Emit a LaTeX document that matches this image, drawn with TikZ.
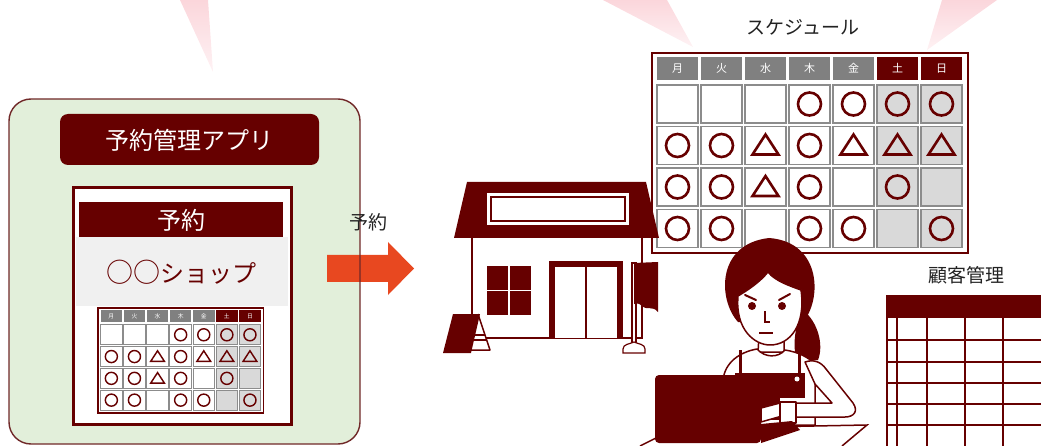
\documentclass[tikz,border=0pt]{standalone}
\usepackage{fontspec}
\newfontfamily\jp{Noto Sans CJK JP}
\definecolor{maroon}{RGB}{102,0,0}
\definecolor{panelgreen}{RGB}{226,239,218}
\definecolor{panelline}{RGB}{112,40,40}
\definecolor{hdrgray}{RGB}{128,128,128}
\definecolor{wkgray}{RGB}{217,217,217}
\definecolor{cellgray}{RGB}{140,140,140}
\definecolor{bandgray}{RGB}{240,240,240}
\definecolor{arrowred}{RGB}{232,72,32}
\definecolor{raytop}{RGB}{251,214,219}
\definecolor{raytip}{RGB}{254,242,244}
\definecolor{inkdark}{RGB}{34,34,34}

% weekly schedule grid, drawn in local coordinates; #1 = name prefix, #2 = line width factor
\newcommand\schedgrid[2]{%
  \draw[maroon, line width=#2*2.2pt, fill=white] (-5,-4) rectangle (311,196);
  \foreach \dd [count=\ii from 0] in {月,火,水,木,金,土,日}{%
    \ifnum\ii<5 \def\hc{hdrgray}\else\def\hc{maroon}\fi
    \fill[\hc] (44*\ii,0) rectangle (44*\ii+41,23);
    \node[dayfont] (#1-d\ii) at (44*\ii+20.5,11.5) {\dd};
  }
  \foreach \rr in {1,...,4}{%
    \foreach \cc in {0,...,6}{%
      \ifnum\cc>4 \def\fc{wkgray}\else\def\fc{white}\fi
      \draw[cellgray, line width=#2*1.8pt, fill=\fc] (44*\cc,41.5*\rr-13.5) rectangle ++(41,38);
    }
  }
  \foreach \cc/\rr in {3/1,4/1,5/1,6/1,0/2,1/2,3/2,0/3,1/3,3/3,5/3,0/4,1/4,3/4,4/4,6/4}
    \draw[maroon, line width=#2*2.6pt] (44*\cc+20.5,41.5*\rr+5.5) circle[radius=11.5];
  \foreach \cc/\rr in {2/2,4/2,5/2,6/2,2/3}
    \draw[maroon, line width=#2*2.6pt, line join=miter]
      (44*\cc+20.5,41.5*\rr-5.5) -- ++(13,20) -- ++(-26,0) -- cycle;
}

\begin{document}
\begin{tikzpicture}[x=1pt,y=-1pt,
  dayfont/.style={text=white, font=\jp\fontsize{11}{11}\selectfont, inner sep=0pt},
  bigtext/.style={font=\jp\fontsize{24}{24}\selectfont, inner sep=0pt},
  labeltext/.style={text=inkdark, font=\jp\fontsize{19}{19}\selectfont, inner sep=0pt},
  outline/.style={draw=maroon, line width=1.5pt, line join=round},
  ray/.style={top color=raytop, bottom color=raytip}]
\useasboundingbox (0,0) rectangle (1041,446);
\clip (0,0) rectangle (1041,446);

% light rays
\shade[ray] (180,0) -- (208,0) -- (213,72) -- cycle;
\shade[ray] (603,0) -- (667,0) -- (693,47) -- cycle;
\shade[ray] (942,0) -- (997,0) -- (927,50) -- cycle;

% booking app panel
\fill[panelgreen, rounded corners=22pt] (9,99) rectangle (360,444);
\fill[maroon, rounded corners=8pt] (60,114) rectangle (319,165);
\node[bigtext, text=white] (apptitle) at (189.5,140) {予約管理アプリ};
\draw[maroon, line width=3pt, fill=white] (73,188) rectangle (291,424);
\fill[bandgray] (76,237) rectangle (288,306);
\fill[maroon] (79,202) rectangle (283,237);
\node[bigtext, text=white] (rsvhead) at (181,220) {予約};
\node[bigtext, text=maroon] (shopname) at (181,272) {{\fontsize{27}{27}\selectfont ○○}ショップ};
\begin{scope}[shift={(100.6,310.1)}, scale=0.525, transform shape]
  \schedgrid{mini}{0.55}
\end{scope}

% booking arrow
\fill[arrowred] (327,255) -- (388,255) -- (388,242) -- (414,268.5) -- (388,295) -- (388,282) -- (327,282) -- cycle;
\draw[panelline, line width=1.4pt, rounded corners=22pt] (9,99) rectangle (360,444);
\node[labeltext] (rsvlabel) at (368,222) {予約};

% schedule board
\node[labeltext] (schedlabel) at (803,27) {スケジュール};
\begin{scope}[shift={(657,57)}]
  \schedgrid{big}{1}
\end{scope}

% shop building
\fill[maroon] (467,182) -- (646,182) -- (659,238) -- (454,238) -- cycle;
\fill[white] (487,193) rectangle (629,225);
\draw[maroon, line width=1.5pt] (491,197) rectangle (625,221);
\draw[maroon, line width=1.5pt] (472,238) -- (472,338) -- (642,338) -- (642,238);
\fill[maroon] (487,266) rectangle (531,315);
\draw[white, line width=1.5pt] (509,266) -- (509,315) (487,290.5) -- (531,290.5);
\fill[maroon] (549,261) rectangle (623,338);
\fill[white] (555,267) rectangle (617,338);
\draw[maroon, line width=1.5pt] (586,267) -- (586,338);
% standing sign
\draw[outline, fill=white] (478,314) -- (490,350) -- (466,350);
\draw[maroon, line width=1.2pt] (474,335) -- (485,335) (474,340) -- (487,340);
\fill[maroon] (453,314) -- (480,314) -- (471,353) -- (443,353) -- cycle;
% flag
\draw[maroon, line width=1.2pt, fill=white] (632,263) rectangle (636,344);
\draw[maroon, line width=1.2pt, fill=white] (623,353) -- (623,349) .. controls (623,344) and (630,344) .. (634,342) .. controls (638,344) and (645,344) .. (645,349) -- (645,353) -- cycle;
\fill[maroon] (634,263) -- (658,262) -- (658,312) .. controls (652,305) and (648,311) .. (642,306) .. controls (639,303) and (636,303) .. (634,304) -- cycle;

% woman at the laptop
\fill[maroon] (738,322) .. controls (718,300) and (716,244) .. (769,238) .. controls (822,242) and (822,300) .. (803,322) -- cycle;
\fill[maroon] (803,310) .. controls (818,322) and (824,345) .. (818,360) -- (797,362) .. controls (792,345) and (795,325) .. (803,310) -- cycle;
\draw[outline, fill=white] (759,336) -- (758,352) -- (784,352) -- (784,336);
\draw[outline, fill=white] (723,380) .. controls (725,362) and (740,352) .. (757,349) .. controls (765,358) and (778,358) .. (785,350) .. controls (798,352) and (808,357) .. (815,364) -- (815,425) -- (723,425) -- cycle;
\fill[maroon] (735,373) rectangle (805,398);
\fill[maroon] (735,398) rectangle (780,420);
\draw[maroon, line width=3pt] (740,350) -- (740,374) (799,354) -- (799,374);
\fill[white] (797,379) circle[radius=2.5];
\draw[outline, fill=white] (738,296) .. controls (735,330) and (755,345) .. (770,345) .. controls (790,345) and (806,325) .. (801,290) .. controls (790,286) and (775,281) .. (768,272) .. controls (760,282) and (748,290) .. (738,296) -- cycle;
\fill[maroon] (752,306) circle[radius=4] (782,306) circle[radius=4];
\draw[maroon, line width=2pt, line cap=round] (745,295) -- (756,300) (779,300) -- (790,294);
\draw[maroon, line width=1.8pt] (765,311) -- (765,322) -- (770,322);
\draw[maroon, line width=1.5pt] (759,333) -- (773,333);
% arms and hand
\draw[outline, fill=white] (761,408) -- (780,403) -- (782,416) -- (761,422) -- cycle;
\draw[outline, fill=white] (805,362) .. controls (814,359) and (821,362) .. (826,369) -- (853,403) .. controls (859,412) and (853,417) .. (845,417) -- (795,417) -- (795,403) -- (832,403) -- (815,384) -- cycle;
\draw[outline, fill=white] (780,402) rectangle (796,423);
\fill[maroon] (761,424) -- (792,421) -- (800,430) -- (761,443) -- cycle;
\draw[maroon, line width=1.5pt] (761,427) -- (867,425) -- (842,446);
\draw[maroon, line width=1.5pt] (640,446) -- (656,438);
\fill[maroon, rounded corners=4pt] (655,375) rectangle (761,443);

% customer register
\node[labeltext] (custlabel) at (966,275) {顧客管理};
\fill[maroon] (887,295) rectangle (1041,318);
\fill[white] (887,318) rectangle (1041,446);
\draw[maroon, line width=1.2pt] (897,318) -- (897,446) (927,318) -- (927,446) (965,318) -- (965,446) (1003,318) -- (1003,446);
\foreach \yy in {340,362,383,404,425}
  \draw[maroon, line width=1.2pt] (887,\yy) -- (1041,\yy);
\draw[maroon, line width=2pt] (887,295) -- (887,446);
\end{tikzpicture}
\end{document}
